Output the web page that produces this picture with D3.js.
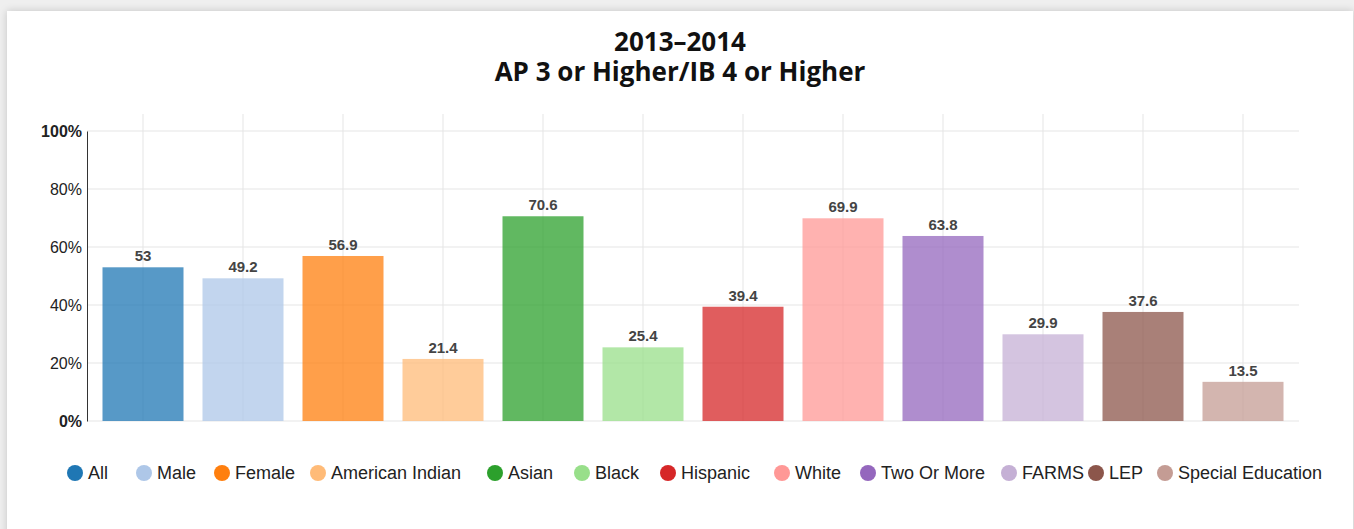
<!DOCTYPE html>
<html>
<head>
<meta charset="utf-8">
<script src="https://cdn.jsdelivr.net/npm/d3@7"></script>
<style>
  html, body { margin: 0; padding: 0; background: #efefef; }
  .card { position: absolute; left: 7px; top: 11px; width: 1346px; height: 530px;
          background: #fff; box-shadow: 0 0 8px rgba(0,0,0,0.18); }
  svg { position: absolute; left: 0; top: 0; }
</style>
</head>
<body>
<div class="card"></div>
<div id="vis"></div>
<script>
// Frame
const FRAME_WIDTH = 1354;
const FRAME_HEIGHT = 529;

// Data
const groups = ["All", "Male", "Female", "American Indian", "Asian", "Black",
                "Hispanic", "White", "Two Or More", "FARMS", "LEP", "Special Education"];
const values = [53, 49.2, 56.9, 21.4, 70.6, 25.4, 39.4, 69.9, 63.8, 29.9, 37.6, 13.5];
const colors = ["#1f77b4", "#aec7e8", "#ff7f0e", "#ffbb78", "#2ca02c", "#98df8a",
                "#d62728", "#ff9896", "#9467bd", "#c5b0d5", "#8c564b", "#c49c94"];
const yTicks = [0, 20, 40, 60, 80, 100];
const titleLines = ["2013\u20132014", "AP 3 or Higher/IB 4 or Higher"];

// legend circle centers (layout)
const LEGEND_X = [75, 144, 222, 318, 495, 582, 668, 782, 868, 1009, 1096, 1165];

const FRAME = d3.select("#vis")
                .append("svg")
                  .attr("width", FRAME_WIDTH)
                  .attr("height", FRAME_HEIGHT);

const X_SCALE = d3.scaleBand()
                  .domain(groups)
                  .range([93, 1293])
                  .paddingInner(0.19)
                  .paddingOuter(0.095);

const Y_SCALE = d3.scaleLinear()
                  .domain([0, 100])
                  .range([421, 131]);

// title
FRAME.selectAll(".title")
     .data(titleLines)
     .enter()
     .append("text")
       .attr("x", 680)
       .attr("y", (d, i) => 51 + i * 30)
       .attr("text-anchor", "middle")
       .attr("font-family", "'Open Sans', sans-serif")
       .attr("font-weight", "bold")
       .attr("font-size", "26px")
       .attr("fill", "#111")
       .text(d => d);

// horizontal grid
FRAME.selectAll(".hgrid")
     .data(yTicks)
     .enter()
     .append("line")
       .attr("x1", 87).attr("x2", 1299)
       .attr("y1", d => Y_SCALE(d)).attr("y2", d => Y_SCALE(d))
       .attr("stroke", "#e5e5e5")
       .attr("stroke-width", 1);

// vertical grid at bar centers
FRAME.selectAll(".vgrid")
     .data(groups)
     .enter()
     .append("line")
       .attr("x1", d => X_SCALE(d) + X_SCALE.bandwidth() / 2)
       .attr("x2", d => X_SCALE(d) + X_SCALE.bandwidth() / 2)
       .attr("y1", 114).attr("y2", 421)
       .attr("stroke", "#e5e5e5")
       .attr("stroke-width", 1);

// bars
FRAME.selectAll(".bar")
     .data(values)
     .enter()
     .append("rect")
       .attr("x", (d, i) => X_SCALE(groups[i]))
       .attr("y", d => Y_SCALE(d))
       .attr("width", X_SCALE.bandwidth())
       .attr("height", d => Y_SCALE(0) - Y_SCALE(d))
       .attr("fill", (d, i) => colors[i])
       .attr("fill-opacity", 0.75);

// value labels
FRAME.selectAll(".val")
     .data(values)
     .enter()
     .append("text")
       .attr("x", (d, i) => X_SCALE(groups[i]) + X_SCALE.bandwidth() / 2)
       .attr("y", d => Y_SCALE(d) - 6)
       .attr("text-anchor", "middle")
       .attr("font-family", "'Liberation Sans', Arial, sans-serif")
       .attr("font-weight", "bold")
       .attr("font-size", "15px")
       .attr("fill", "#444")
       .text(d => d);

// y axis
const yAxis = FRAME.append("g")
     .attr("transform", "translate(87,0)")
     .call(d3.axisLeft(Y_SCALE).tickValues(yTicks).tickSize(0).tickPadding(5)
             .tickFormat(d => d + "%"));
yAxis.select(".domain").attr("stroke", "#333");
yAxis.selectAll("text")
     .attr("font-family", "'Liberation Sans', Arial, sans-serif")
     .attr("font-size", "16px")
     .attr("fill", "#222")
     .attr("font-weight", d => (d === 0 || d === 100) ? "bold" : "normal");

// legend
const legend = FRAME.selectAll(".legend")
     .data(groups)
     .enter()
     .append("g")
       .attr("transform", (d, i) => "translate(" + LEGEND_X[i] + ",473)");
legend.append("circle")
      .attr("r", 8)
      .attr("fill", (d, i) => colors[i]);
legend.append("text")
      .attr("x", 13)
      .attr("y", 6)
      .attr("font-family", "'Liberation Sans', Arial, sans-serif")
      .attr("font-size", "18px")
      .attr("fill", "#222")
      .text(d => d);
</script>
</body>
</html>
